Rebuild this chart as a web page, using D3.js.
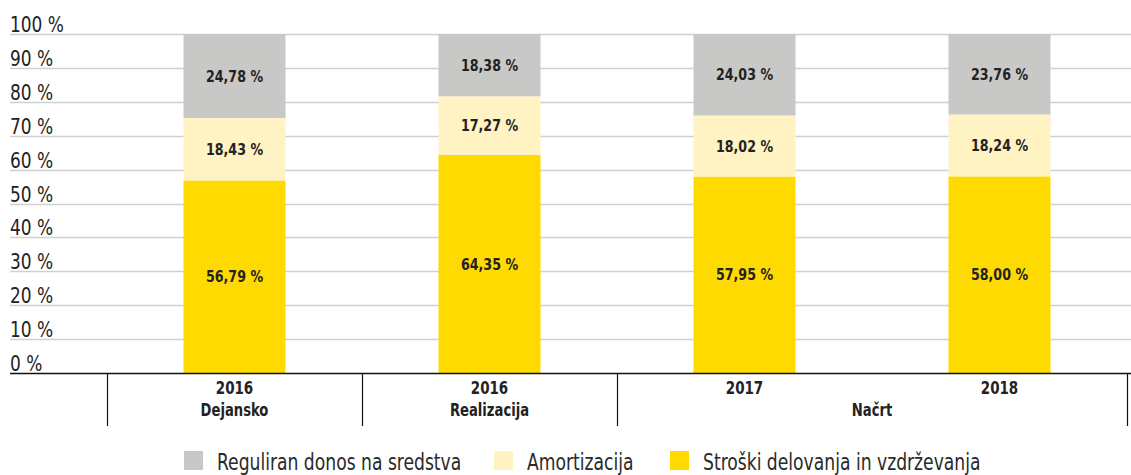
<!DOCTYPE html>
<html>
<head>
<meta charset="utf-8">
<script src="https://cdn.jsdelivr.net/npm/d3@7"></script>
<style>
  html, body { margin: 0; padding: 0; background: #fff; }
  svg { display: block; }
</style>
</head>
<body>
<svg id="chart" width="1131" height="475"></svg>
<script>
// Categories (two-line labels) and group headings
const years = ["2016", "2016", "2017", "2018"];
const groups = [
  { label: "Dejansko", from: 0, to: 0 },
  { label: "Realizacija", from: 1, to: 1 },
  { label: "Načrt", from: 2, to: 3 }
];

// Shares in percent per series
const operating = [56.79, 64.35, 57.95, 58.00];    // Stroški delovanja in vzdrževanja
const depreciation = [18.43, 17.27, 18.02, 18.24]; // Amortizacija
const regReturn = [24.78, 18.38, 24.03, 23.76];    // Reguliran donos na sredstva

const yTicks = [0, 10, 20, 30, 40, 50, 60, 70, 80, 90, 100];

const seriesNames = ["Stroški delovanja in vzdrževanja", "Amortizacija", "Reguliran donos na sredstva"];
const seriesColors = ["#ffda00", "#fff3c4", "#c8c8c7"];
const legendOrder = [2, 1, 0];

const svg = d3.select("#chart");
const fontFam = '"DejaVu Sans Condensed", "DejaVu Sans", sans-serif';

// Place a horizontally compressed text element (narrow typeface look)
function narrowText(sel, sx) {
  return sel.attr("transform", function () {
    const t = d3.select(this);
    const px = +t.attr("data-x"), py = +t.attr("data-y");
    return `translate(${px},${py}) scale(${sx},1)`;
  });
}

const x = d3.scaleBand().domain(d3.range(years.length)).range([107, 1127]).paddingInner(0).paddingOuter(0);
const y = d3.scaleLinear().domain([0, 100]).range([373, 34]);

const barW = x.bandwidth() * 0.4;

// Gridlines
svg.append("g").selectAll("line").data(yTicks.filter(d => d > 0)).join("line")
  .attr("x1", 10).attr("x2", 1131)
  .attr("y1", d => Math.round(y(d)) + 0.5).attr("y2", d => Math.round(y(d)) + 0.5)
  .attr("stroke", "#d0d0d0").attr("stroke-width", 1.5);

// Tick labels (sit just above each line)
svg.append("g").selectAll("text").data(yTicks).join("text")
  .attr("data-x", 10).attr("data-y", d => y(d) - 2)
  .attr("font-family", fontFam).attr("font-size", 21).attr("fill", "#222")
  .text(d => d + " %")
  .call(narrowText, 0.9);

// Stacked bars
const rows = years.map((yr, i) => ({ i, v: [operating[i], depreciation[i], regReturn[i]] }));
const stack = d3.stack().keys([0, 1, 2]).value((d, k) => d.v[k]);
const stacked = stack(rows);

const layers = svg.append("g").selectAll("g").data(stacked).join("g")
  .attr("fill", (d, k) => seriesColors[k]);

layers.selectAll("rect").data(d => d).join("rect")
  .attr("x", d => x(d.data.i) + (x.bandwidth() - barW) / 2)
  .attr("width", barW)
  .attr("y", d => y(d[1]))
  .attr("height", d => y(d[0]) - y(d[1]));

layers.selectAll("text").data(d => d).join("text")
  .attr("data-x", d => x(d.data.i) + x.bandwidth() / 2)
  .attr("data-y", d => (y(d[0]) + y(d[1])) / 2)
  .attr("dy", "0.35em")
  .attr("text-anchor", "middle")
  .attr("font-family", fontFam).attr("font-weight", "bold").attr("font-size", 16)
  .attr("fill", "#222")
  .text(d => d3.format(".2f")(d[1] - d[0]).replace(".", ",") + " %")
  .call(narrowText, 0.88);

// Baseline
svg.append("line").attr("x1", 10).attr("x2", 1131).attr("y1", 373.5).attr("y2", 373.5)
  .attr("stroke", "#111").attr("stroke-width", 1.5);

// Group separators
const seps = [107, x(1), x(2), 1127];
svg.append("g").selectAll("line").data(seps).join("line")
  .attr("x1", d => d + 0.5).attr("x2", d => d + 0.5).attr("y1", 373).attr("y2", 426)
  .attr("stroke", "#111").attr("stroke-width", 1.2);

// Year labels
svg.append("g").selectAll("text").data(years).join("text")
  .attr("data-x", (d, i) => x(i) + x.bandwidth() / 2).attr("data-y", 394)
  .attr("text-anchor", "middle")
  .attr("font-family", fontFam).attr("font-weight", "bold").attr("font-size", 17).attr("fill", "#222")
  .text(d => d)
  .call(narrowText, 0.88);

// Group labels
svg.append("g").selectAll("text").data(groups).join("text")
  .attr("data-x", d => (x(d.from) + x(d.to) + x.bandwidth()) / 2).attr("data-y", 416)
  .attr("text-anchor", "middle")
  .attr("font-family", fontFam).attr("font-weight", "bold").attr("font-size", 17).attr("fill", "#222")
  .text(d => d.label)
  .call(narrowText, 0.86);

// Legend
const legendX = [184, 494, 670];
const leg = svg.append("g").selectAll("g").data(legendOrder).join("g")
  .attr("transform", (k, j) => `translate(${legendX[j]},451)`);
leg.append("rect").attr("width", 19).attr("height", 19).attr("fill", k => seriesColors[k]);
leg.append("text").attr("data-x", 33).attr("data-y", 19)
  .attr("font-family", fontFam).attr("font-size", 23).attr("fill", "#2a2a2a")
  .text(k => seriesNames[k])
  .call(narrowText, 0.83);
</script>
</body>
</html>
